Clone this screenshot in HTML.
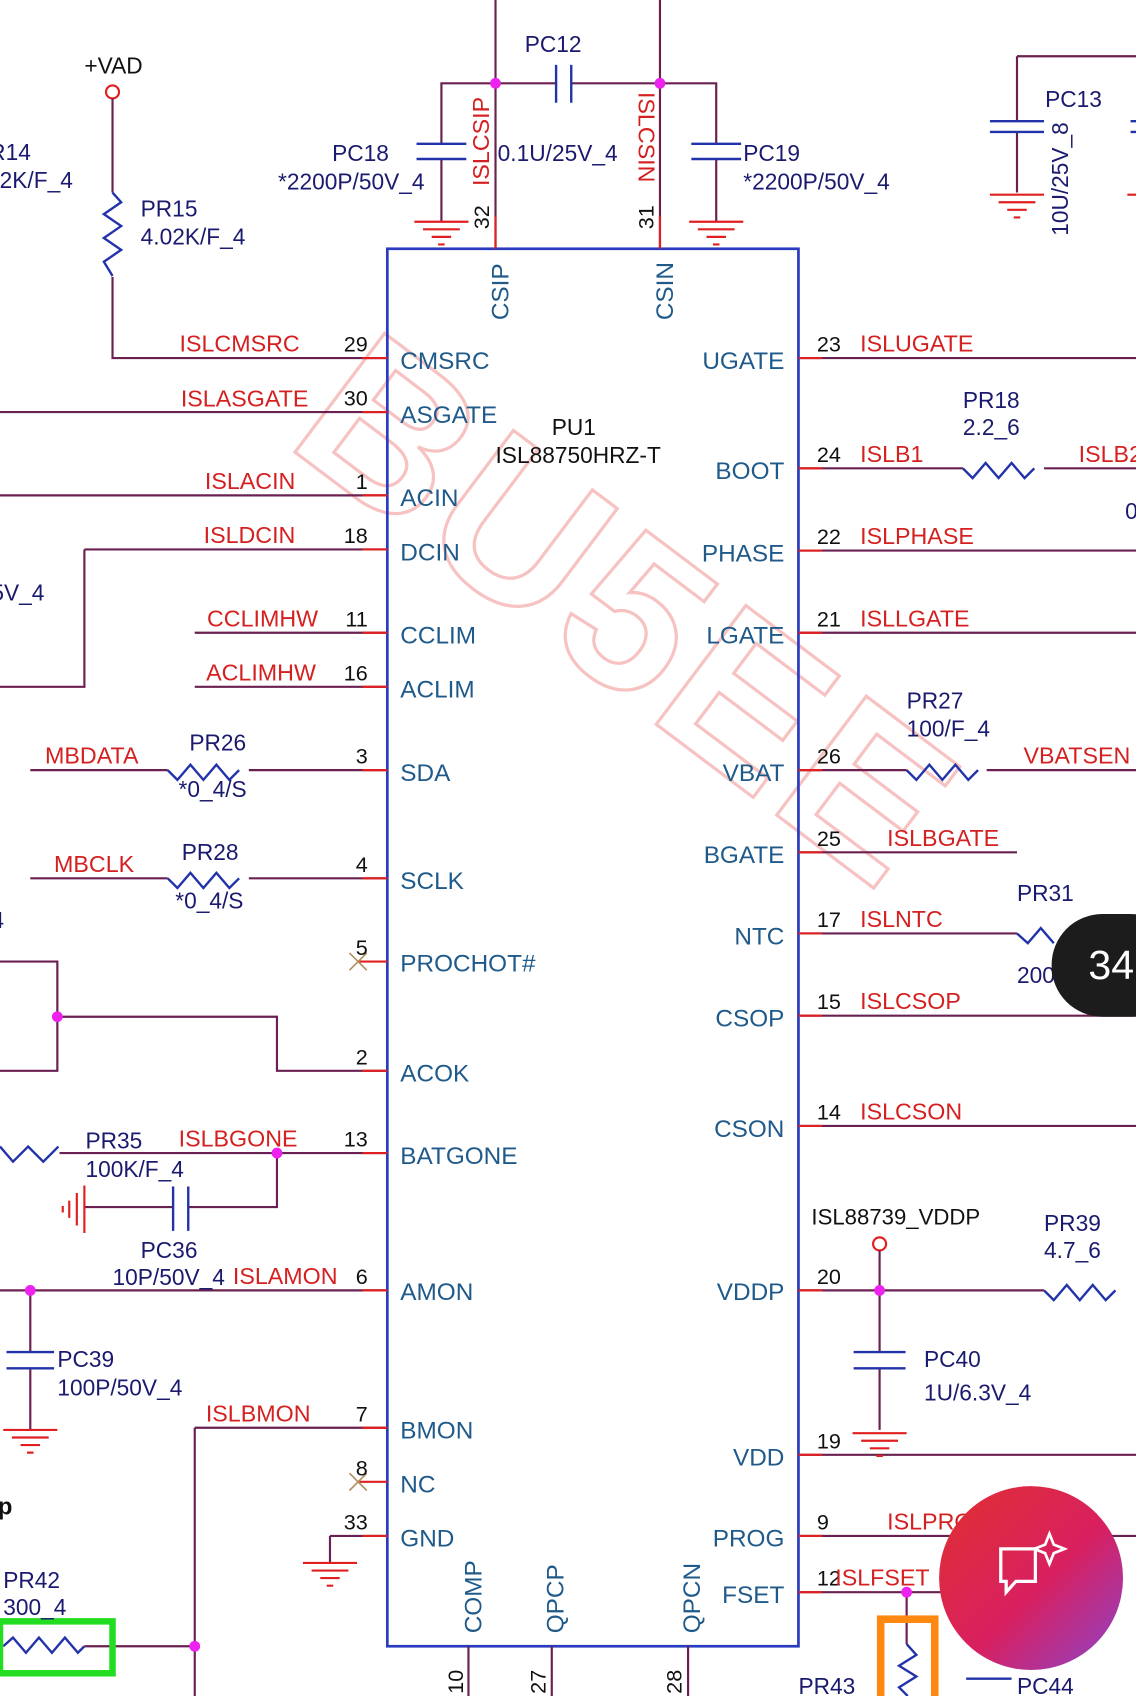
<!DOCTYPE html>
<html><head><meta charset="utf-8"><style>
html,body{margin:0;padding:0;background:#fff;width:1136px;height:1696px;overflow:hidden}
svg{display:block}
text{font-family:"Liberation Sans",sans-serif}
.w{stroke:#6a2050;stroke-width:2;fill:none}
.r{stroke:#e02020;stroke-width:2;fill:none}
.b{stroke:#2233aa;stroke-width:2.2;fill:none}
.pin{fill:#1f5a8a;font-size:22.5px}
.num{fill:#111;font-size:20px}
.net{fill:#d42020;font-size:21.5px}
.prt{fill:#1a1a6e;font-size:21px}
.g{stroke:#e02020;stroke-width:2;fill:none}
</style></head><body>
<svg width="1136" height="1696" viewBox="0 0 1050 1568" preserveAspectRatio="none" xmlns="http://www.w3.org/2000/svg">
<defs>
<g id="gnd"><path class="g" d="M-25 0H25M-17 7H17M-9 14H9M-3 21H3"/></g>
<g id="resH"><path class="b" d="M0 0l9 9l12-14l12 14l12-14l12 14l9-9"/></g>
</defs>

<!-- watermark -->
<text x="0" y="0" transform="translate(262,410) rotate(37)" font-size="200" font-weight="bold" fill="none" stroke="#f7c2c2" stroke-width="3" letter-spacing="6">BU5EE</text>

<!-- chip -->
<rect x="358" y="230" width="380" height="1292" fill="none" stroke="#2a3bc0" stroke-width="2.5"/>

<!-- top pins -->
<path class="w" d="M458 0V230M610 0V230"/>
<path class="r" d="M458 200V230M610 200V230"/>
<path class="w" d="M458 77H514M528 77H610"/>
<path class="b" d="M514 60V95M528 60V95"/>
<text class="prt" x="485" y="48">PC12</text>
<text class="prt" x="460" y="149">0.1U/25V_4</text>
<path class="w" d="M458 77H408V133M408 147V205"/>
<path class="b" d="M385 133H431M385 147H431"/>
<use href="#gnd" x="408" y="205"/>
<text class="prt" x="307" y="149">PC18</text>
<text class="prt" x="257" y="175">*2200P/50V_4</text>
<path class="w" d="M610 77H662V133M662 147V205"/>
<path class="b" d="M639 133H685M639 147H685"/>
<use href="#gnd" x="662" y="205"/>
<text class="prt" x="687" y="149">PC19</text>
<text class="prt" x="687" y="175">*2200P/50V_4</text>
<circle cx="458" cy="77" r="5" fill="#ee22ee"/><circle cx="610" cy="77" r="5" fill="#ee22ee"/>
<text class="net" transform="translate(452,172) rotate(-90)">ISLCSIP</text>
<text class="net" transform="translate(590,85) rotate(90)">ISLCSIN</text>
<text class="num" transform="translate(452,212) rotate(-90)">32</text>
<text class="num" transform="translate(604,212) rotate(-90)">31</text>
<text class="pin" transform="translate(470,296) rotate(-90)">CSIP</text>
<text class="pin" transform="translate(622,296) rotate(-90)">CSIN</text>

<!-- PC13 -->
<path class="w" d="M940 52H1050M940 52V112M940 122V178"/>
<path class="b" d="M915 112H965M915 122H965"/>
<use href="#gnd" x="940" y="180"/>
<text class="prt" x="966" y="99">PC13</text>
<text class="prt" transform="translate(987,218) rotate(-90)">10U/25V_8</text>
<path class="b" d="M1045 112H1050M1045 122H1050"/>
<path class="g" d="M1042 180H1050"/>

<!-- +VAD -->
<text x="78" y="68" font-size="21" fill="#111">+VAD</text>
<circle cx="104" cy="85" r="6" fill="none" stroke="#e02020" stroke-width="2"/>
<path class="w" d="M104 91V178M104 256V331H358"/>
<path class="b" d="M104 178l8 9l-16 11l16 11l-16 11l16 11l-16 11l8 13"/>
<text class="prt" x="130" y="200">PR15</text>
<text class="prt" x="130" y="226">4.02K/F_4</text>
<text class="prt" x="-10" y="148">R14</text>
<text class="prt" x="-12" y="174">02K/F_4</text>

<!-- left pins -->
<path class="w" d="M0 381H358M0 458H358M78 508H358M78 508V635H0M180 585H358M180 635H358"/>
<path class="w" d="M28 712H155M230 712H358M28 812H155M230 812H358"/>
<use href="#resH" x="155" y="712"/><use href="#resH" x="155" y="812"/>
<path class="w" d="M0 889H53V990H0M53 940H256V990H358"/>
<circle cx="53" cy="940" r="5" fill="#ee22ee"/>
<path class="w" d="M55 1066H358M256 1066V1116H174M160 1116H78"/>
<path class="b" d="M0 1060l12 14l14-14l14 14l14-14"/>
<path class="b" d="M160 1097V1138M174 1097V1138"/>
<path class="g" d="M78 1096V1140M71 1103V1133M64 1110V1126M58 1115V1121"/>
<circle cx="256" cy="1066" r="5" fill="#ee22ee"/>
<path class="w" d="M0 1193H358M28 1193V1250M28 1265V1322"/>
<path class="b" d="M6 1250H50M6 1265H50"/>
<use href="#gnd" x="28" y="1322"/>
<circle cx="28" cy="1193" r="5" fill="#ee22ee"/>
<path class="w" d="M180 1320H358M180 1320V1568M78 1522H180"/>
<path class="b" d="M3 1522l9-8l12 14l12-14l12 14l12-14l12 14l6-6"/>
<circle cx="180" cy="1522" r="5" fill="#ee22ee"/>
<path class="w" d="M305 1420H358M305 1420V1445"/>
<use href="#gnd" x="305" y="1445"/>
<path class="r" d="M330 889H358M330 1370H358"/>
<path d="M323 881l16 16M323 897l16-16M323 1362l16 16M323 1378l16-16" stroke="#b09060" stroke-width="1.5"/>
<path class="r" d="M335 331H358M335 381H358M335 458H358M335 508H358M335 585H358M335 635H358M335 712H358M335 812H358M335 990H358M335 1066H358M335 1193H358M335 1320H358M335 1420H358"/>
<rect x="0" y="1499" width="104" height="48" fill="none" stroke="#22dd22" stroke-width="6"/>

<g class="num" text-anchor="end">
<text x="340" y="325">29</text><text x="340" y="375">30</text><text x="340" y="452">1</text><text x="340" y="502">18</text>
<text x="340" y="579">11</text><text x="340" y="629">16</text><text x="340" y="706">3</text><text x="340" y="806">4</text>
<text x="340" y="883">5</text><text x="340" y="984">2</text><text x="340" y="1060">13</text><text x="340" y="1187">6</text>
<text x="340" y="1314">7</text><text x="340" y="1364">8</text><text x="340" y="1414">33</text>
</g>
<g class="net" text-anchor="end">
<text x="277" y="325">ISLCMSRC</text><text x="285" y="376">ISLASGATE</text><text x="273" y="452">ISLACIN</text><text x="273" y="502">ISLDCIN</text>
<text x="294" y="579">CCLIMHW</text><text x="292" y="629">ACLIMHW</text><text x="128" y="706">MBDATA</text><text x="124" y="806">MBCLK</text>
<text x="275" y="1060">ISLBGONE</text><text x="312" y="1187">ISLAMON</text><text x="287" y="1314">ISLBMON</text>
</g>
<g class="prt">
<text x="175" y="694">PR26</text><text x="165" y="737">*0_4/S</text>
<text x="168" y="795">PR28</text><text x="162" y="840">*0_4/S</text>
<text x="79" y="1062">PR35</text><text x="79" y="1088">100K/F_4</text>
<text x="130" y="1163">PC36</text><text x="104" y="1188">10P/50V_4</text>
<text x="53" y="1264">PC39</text><text x="53" y="1290">100P/50V_4</text>
<text x="3" y="1468">PR42</text><text x="3" y="1493">300_4</text>
<text x="-8" y="555">5V_4</text><text x="-8" y="858">4</text>
</g>
<text x="-2" y="1400" font-size="22" font-weight="bold" fill="#111">p</text>

<g class="pin">
<text x="370" y="341">CMSRC</text><text x="370" y="391">ASGATE</text><text x="370" y="468">ACIN</text><text x="370" y="518">DCIN</text>
<text x="370" y="595">CCLIM</text><text x="370" y="645">ACLIM</text><text x="370" y="722">SDA</text><text x="370" y="822">SCLK</text>
<text x="370" y="898">PROCHOT#</text><text x="370" y="1000">ACOK</text><text x="370" y="1076">BATGONE</text><text x="370" y="1202">AMON</text>
<text x="370" y="1330">BMON</text><text x="370" y="1380">NC</text><text x="370" y="1430">GND</text>
</g>
<text x="510" y="402" font-size="21" fill="#111">PU1</text>
<text x="458" y="428" font-size="21" fill="#111">ISL88750HRZ-T</text>

<!-- right pins -->
<path class="w" d="M738 331H1050M738 433H890M965 433H1050M738 509H1050M738 585H1050M738 712H838M912 712H1050M738 788H940M738 863H940M738 939H1050M738 1041H1050M738 1193H965M738 1345H1050M738 1420H1050M738 1472H870"/>
<use href="#resH" x="890" y="433"/><use href="#resH" x="838" y="712"/><use href="#resH" x="965" y="1193"/>
<path class="b" d="M940 863l10 9l12-14l12 14"/>
<path class="r" d="M738 331H760M738 433H760M738 509H760M738 585H760M738 712H760M738 788H760M738 863H760M738 939H760M738 1041H760M738 1193H760M738 1345H760M738 1420H760M738 1472H760"/>
<circle cx="813" cy="1150" r="6" fill="none" stroke="#e02020" stroke-width="2"/>
<path class="w" d="M813 1156V1250M813 1265V1322"/>
<path class="b" d="M789 1250H837M789 1265H837"/>
<use href="#gnd" x="813" y="1325"/>
<circle cx="813" cy="1193" r="5" fill="#ee22ee"/>
<path class="w" d="M838 1472V1520"/>
<path class="b" d="M838 1520l9 10l-16 10l16 10l-16 10l8 8"/>
<circle cx="838" cy="1472" r="5" fill="#ee22ee"/>
<rect x="814" y="1497" width="50" height="80" fill="none" stroke="#ff8811" stroke-width="7"/>
<path class="b" d="M893 1552H935"/>
<g class="pin" text-anchor="end">
<text x="725" y="341">UGATE</text><text x="725" y="443">BOOT</text><text x="725" y="519">PHASE</text><text x="725" y="595">LGATE</text>
<text x="725" y="722">VBAT</text><text x="725" y="798">BGATE</text><text x="725" y="873">NTC</text><text x="725" y="949">CSOP</text>
<text x="725" y="1051">CSON</text><text x="725" y="1202">VDDP</text><text x="725" y="1355">VDD</text><text x="725" y="1430">PROG</text><text x="725" y="1482">FSET</text>
</g>
<g class="num">
<text x="755" y="325">23</text><text x="755" y="427">24</text><text x="755" y="503">22</text><text x="755" y="579">21</text>
<text x="755" y="706">26</text><text x="755" y="782">25</text><text x="755" y="857">17</text><text x="755" y="933">15</text>
<text x="755" y="1035">14</text><text x="755" y="1187">20</text><text x="755" y="1339">19</text><text x="755" y="1414">9</text><text x="755" y="1466">12</text>
</g>
<g class="net">
<text x="795" y="325">ISLUGATE</text><text x="795" y="427">ISLB1</text><text x="997" y="427">ISLB2</text><text x="795" y="503">ISLPHASE</text>
<text x="795" y="579">ISLLGATE</text><text x="946" y="706">VBATSEN</text><text x="820" y="782">ISLBGATE</text><text x="795" y="857">ISLNTC</text>
<text x="795" y="933">ISLCSOP</text><text x="795" y="1035">ISLCSON</text><text x="820" y="1414">ISLPROG</text><text x="772" y="1466">ISLFSET</text>
</g>
<g class="prt">
<text x="890" y="377">PR18</text><text x="890" y="402">2.2_6</text>
<text x="838" y="655">PR27</text><text x="838" y="681">100/F_4</text>
<text x="940" y="833">PR31</text><text x="940" y="909">200</text>
<text x="965" y="1138">PR39</text><text x="965" y="1163">4.7_6</text>
<text x="854" y="1264">PC40</text><text x="854" y="1295">1U/6.3V_4</text>
<text x="738" y="1566">PR43</text><text x="940" y="1566">PC44</text>
<text x="1040" y="480">0</text>
</g>
<text x="750" y="1132" font-size="20.5" fill="#111">ISL88739_VDDP</text>

<!-- bottom pins -->
<path class="w" d="M433 1522V1568M510 1522V1568M636 1522V1568"/>
<g class="pin">
<text transform="translate(445,1510) rotate(-90)">COMP</text>
<text transform="translate(521,1510) rotate(-90)">QPCP</text>
<text transform="translate(647,1510) rotate(-90)">QPCN</text>
</g>
<g class="num">
<text transform="translate(428,1566) rotate(-90)">10</text>
<text transform="translate(504,1566) rotate(-90)">27</text>
<text transform="translate(630,1566) rotate(-90)">28</text>
</g>

<!-- overlays -->
<rect x="972" y="845" width="120" height="95" rx="47" fill="#1c1c1c"/>
<text x="1006" y="905" font-size="38" fill="#fff">34</text>
<defs><linearGradient id="gr" x1="0" y1="0" x2="1" y2="1"><stop offset="0" stop-color="#e03030"/><stop offset="0.55" stop-color="#d82060"/><stop offset="1" stop-color="#8a44cc"/></linearGradient></defs>
<circle cx="953" cy="1459" r="85" fill="url(#gr)"/>
<path d="M925 1432h32v30h-18l-9 10v-10h-5z" fill="none" stroke="#fff" stroke-width="3"/>
<path d="M966 1428l4-10l4 10l10 4l-10 4l-4 10l-4-10l-10-4z" fill="none" stroke="#fff" stroke-width="2.5"/>
</svg>
</body></html>
